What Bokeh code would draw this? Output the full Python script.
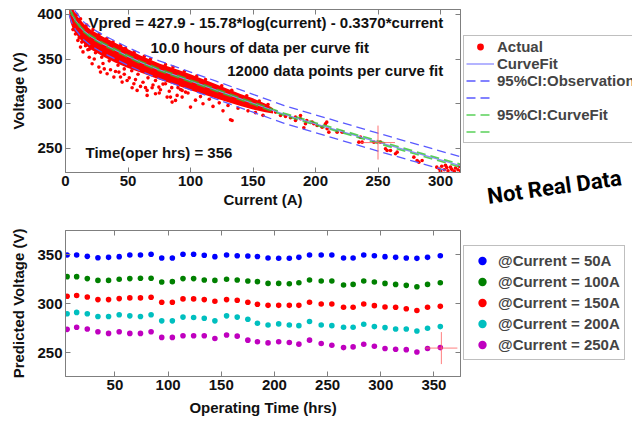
from bokeh.plotting import figure
from bokeh.models import Range1d, LinearAxis, Legend, LegendItem, Label, FixedTicker
from bokeh.layouts import column, row
from bokeh.embed import file_html
from bokeh.resources import INLINE

FONT = "Liberation Sans"

# ---------------- top panel data (Current A vs Voltage V) ----------------
curve_i = [3, 4, 5, 6, 7, 8, 10, 12, 15, 20, 25, 30, 40, 50, 60, 75, 90, 100, 120, 150, 175, 200, 250, 300, 320]
curve_v = [409, 405, 401, 398, 395.5, 393, 389.5, 385.5, 381, 375.5, 371, 367, 360, 353, 346.5, 338, 330.5, 325.5, 315.5, 300.5, 288, 277.5, 257, 237, 229]
obs_hi = [419, 415, 411, 408, 405.5, 403, 399.5, 395.5, 391, 385.5, 381, 377, 370, 363, 356.5, 348, 340.5, 335.5, 325.5, 310.5, 298, 287.5, 267, 247, 239]
obs_lo = [399, 395, 391, 388, 385.5, 383, 379.5, 375.5, 371, 365.5, 361, 357, 350, 343, 336.5, 328, 320.5, 315.5, 305.5, 290.5, 278, 267.5, 247, 227, 219]
cf_hi = [410.2, 406.2, 402.2, 399.2, 396.7, 394.2, 390.7, 386.7, 382.2, 376.7, 372.2, 368.2, 361.2, 354.2, 347.7, 339.2, 331.7, 326.7, 316.7, 301.7, 289.3, 278.8, 258.4, 238.5, 230.7]
cf_lo = [407.8, 403.8, 399.8, 396.8, 394.3, 391.8, 388.3, 384.3, 379.8, 374.3, 369.8, 365.8, 358.8, 351.8, 345.3, 336.8, 329.3, 324.3, 314.3, 299.3, 286.7, 276.2, 255.6, 235.5, 227.3]

band_i = [3, 4, 6, 8, 10, 15, 20, 30, 40, 50, 60, 75, 90, 100, 120, 140, 150, 160, 166]
band_hi = [412, 411, 406, 401, 397, 389, 383, 375, 368, 361, 354, 345, 338, 333, 322, 311, 306, 300, 295]
band_lo = [398, 391, 383, 379, 375, 367, 361, 353, 346, 340, 335, 327, 320, 315, 306, 297.5, 293.5, 290.5, 289]

edge_hi_i = [5, 9, 12, 17, 22, 27, 33, 38, 44, 48, 55, 63, 68, 80, 86, 95, 105, 112, 125, 133, 145, 155, 162]
edge_hi_v = [404, 400, 395, 388, 383, 378, 373, 369, 365, 362, 358, 353, 350, 344, 341, 336, 331, 327, 320, 315, 309, 303, 299]
edge_lo_i = [6, 8, 11, 13, 16, 19, 24, 29, 35, 42, 47, 53, 58, 66, 72, 78, 85, 92, 98, 108, 115, 123, 130, 138, 146, 152, 158]
edge_lo_v = [383, 378, 374, 369, 365, 361, 357, 352, 348, 343, 339, 337, 333, 329, 326, 322, 318, 316, 312, 308, 305, 301, 298, 295, 292, 290, 287]
out_i = [9.9, 12, 17.9, 21.3, 26.7, 28, 33.3, 38.7, 42.7, 45.3, 49.3, 53.3, 54.7, 57.3, 60, 65.3, 65.3, 69.3, 72, 74.7, 76,
         80, 81.3, 84, 85.3, 88, 89.3, 93.3, 93.3, 96, 100, 132, 133.3, 14, 19, 23, 30, 31, 36, 40, 44, 47, 51, 56, 62,
         64, 70, 75, 83, 90, 104, 110, 118, 126]
out_v = [370.9, 363.4, 360.5, 344.8, 341, 335.4, 333.6, 329.8, 335.4, 324.2, 326, 317.9, 322.4, 314.9, 319.4, 309.3, 314.9,
         317.9, 311.2, 318.6, 315.7, 322.4, 307.4, 307.4, 301.8, 303.7, 309.3, 307.4, 314.9, 313, 296.2, 282, 281.3, 358,
         352, 350, 345, 339, 338, 336, 330, 333, 329, 327, 324, 318, 321, 312, 314, 318, 304, 300, 297, 292]
tail_i = [164, 168, 172, 176, 180, 184, 184, 188, 188, 190.7, 192, 193, 197.3, 198.6, 201.3, 205.3, 208, 209.3, 209,
          210.7, 217.3, 221.3, 234.7, 236, 237.3, 246.7, 252, 256, 257.3, 260, 264, 265.3, 278.7, 281.3, 282.7, 285.3,
          297, 299, 301, 303, 305, 306, 308, 309, 311, 312, 314, 315, 316, 300, 304]
tail_v = [292.5, 290.6, 286.9, 285.8, 284.3, 281.3, 285, 283.2, 286.9, 273.1, 277.6, 281.3, 279.4, 277.6, 275.7, 273.8,
          277.6, 272, 279.4, 268.2, 268.2, 268.2, 257, 262.6, 257, 257, 257, 249.6, 247.7, 247.7, 244, 245.8, 240.2,
          236.5, 234.6, 236.5, 229, 227, 230, 226, 228.5, 225, 229, 226.5, 224.5, 228, 226, 230, 225, 224.5, 231]

cross_top_i = [250]
cross_top_v = [256.5]

x_ticks_top = [0, 50, 100, 150, 200, 250, 300]
y_ticks_top = [250, 300, 350, 400]

# ---------------- bottom panel data (Operating time vs predicted V) ----------------
hours = [5, 14, 24, 34, 44, 54, 64, 74, 84, 94, 104, 114, 124, 134, 144, 155, 165, 175, 184, 194, 204, 214, 223, 233,
         244, 254, 265, 274, 284, 294, 304, 314, 324, 334, 344, 356]
v50 = [350, 350, 348.6, 347.2, 347.6, 348.3, 350, 350, 350.7, 346.9, 346.9, 350.7, 350.7, 349.7, 348.3, 350, 349.3, 349,
       348.5, 346.9, 346.6, 346.6, 347.6, 350, 350, 350, 346.9, 346.9, 350, 349.3, 348.3, 347.6, 346.9, 346.6, 347.6, 349.3]
v100 = [327.9, 327.9, 325.9, 324.1, 324.1, 325.2, 325.9, 326.2, 326.2, 322.4, 322.8, 325.9, 325.9, 324.5, 324.1, 325.2,
        324.5, 323.4, 322.8, 321, 321, 320.7, 321.7, 324.5, 323.4, 323.4, 319.3, 320, 323.4, 322.4, 321, 320, 319, 317.6,
        320, 321.7]
v150 = [307.9, 308.6, 307.2, 304.5, 304.5, 305.5, 306.2, 306.2, 306.9, 301.7, 301.7, 305.2, 305.2, 304.5, 302.8, 304.5,
        303.8, 301.7, 299.7, 298.6, 298.6, 298.6, 298.6, 301.7, 300, 300, 296.6, 296.6, 300, 298.3, 296.9, 296.6, 295.2,
        293.4, 296.6, 297.6]
v200 = [290, 291.4, 290, 287.2, 287.2, 289, 287.9, 287.2, 289, 282.8, 282.8, 286.6, 286.2, 285.5, 282.8, 287.9, 286.6,
        284.5, 280.3, 278.6, 279.7, 278.6, 277.9, 282.1, 278.6, 277.9, 276.2, 276.2, 279.3, 276.9, 275.9, 274.5, 274.5,
        272.4, 275.2, 276.9]
v250 = [274.1, 276.2, 274.5, 271.7, 270, 271.7, 270, 270, 271.7, 265.9, 265.9, 267.6, 267.6, 267.6, 264.8, 268.3, 267.2,
        263.1, 261.4, 260.3, 261.4, 260.7, 259, 263.1, 259.7, 257.9, 255.5, 256.2, 259, 256.9, 254.5, 253.8, 253.4, 251,
        254.5, 255.5]
series_labels = ["@Current = 50A", "@Current = 100A", "@Current = 150A", "@Current = 200A", "@Current = 250A"]
series_colors = ["#0000ff", "#008000", "#ff0000", "#00bfbf", "#bf00bf"]
cross_bot_t = [357]
cross_bot_v = [255]

x_ticks_bot = [50, 100, 150, 200, 250, 300, 350]
y_ticks_bot = [250, 300, 350]

AX = "#7f7f7f"
RED = "#ff0000"
FIT_C = "#8c8cff"
OBS_C = "#5a5aff"
CF_C = "#2fc42f"
DASH = "9 5"


def style_axis(ax, ticks, show_labels=True, label=None):
    ax.ticker = FixedTicker(ticks=ticks)
    ax.axis_line_color = AX
    ax.major_tick_line_color = AX
    ax.major_tick_in = 5
    ax.major_tick_out = 0
    ax.minor_tick_line_color = None
    ax.major_label_text_font = FONT
    ax.major_label_text_font_style = "bold"
    ax.major_label_text_color = "#111111"
    if show_labels:
        ax.major_label_text_font_size = "15px"
        ax.major_label_standoff = 3
    else:
        ax.major_label_overrides = {t: "" for t in ticks}
        ax.major_label_text_font_size = "0px"
        ax.major_label_standoff = 0
    if label:
        ax.axis_label = label
        ax.axis_label_text_font = FONT
        ax.axis_label_text_font_style = "bold"
        ax.axis_label_text_font_size = "15px"
        ax.axis_label_text_color = "#111111"


def base_fig(w, h, xr, yr, top, bottom):
    p = figure(width=w, height=h, x_range=xr, y_range=yr, output_backend="svg",
               toolbar_location=None, min_border_left=65, min_border_right=3,
               min_border_top=top, min_border_bottom=bottom)
    p.xgrid.visible = False
    p.ygrid.visible = False
    p.outline_line_color = AX
    p.background_fill_color = "white"
    return p


def side_fig(w, h):
    s = figure(width=w, height=h, x_range=Range1d(0, w), y_range=Range1d(0, h), output_backend="svg",
               toolbar_location=None, x_axis_location=None, y_axis_location=None,
               min_border_left=0, min_border_right=0, min_border_top=0, min_border_bottom=0)
    s.xgrid.visible = False
    s.ygrid.visible = False
    s.outline_line_color = None
    return s


def style_legend(leg, row_h, glyph_w, standoff, pad, loc):
    leg.location = loc
    leg.border_line_color = AX
    leg.background_fill_alpha = 1
    leg.label_text_font = FONT
    leg.label_text_font_style = "bold"
    leg.label_text_font_size = "15px"
    leg.label_height = row_h
    leg.glyph_height = row_h
    leg.glyph_width = glyph_w
    leg.label_standoff = standoff
    leg.padding = pad
    leg.spacing = 0
    leg.margin = 0


TOP_H = 216
BOT_H = 205
MAIN_W = 463
SIDE_W = 169

# ---------------- top figure ----------------
p1 = base_fig(MAIN_W, TOP_H, Range1d(0, 316), Range1d(223, 405.5), 9, 44)
style_axis(p1.xaxis[0], x_ticks_top, True, "Current (A)")
p1.xaxis[0].axis_label_standoff = 2
style_axis(p1.yaxis[0], y_ticks_top, True, "Voltage (V)")
p1.yaxis[0].axis_label_standoff = 7
ax_t = LinearAxis()
style_axis(ax_t, x_ticks_top, False)
p1.add_layout(ax_t, "above")
ax_r = LinearAxis()
style_axis(ax_r, y_ticks_top, False)
p1.add_layout(ax_r, "right")

p1.varea(x=band_i, y1=band_lo, y2=band_hi, fill_color=RED)
act_i = edge_hi_i + edge_lo_i + out_i + tail_i
act_v = edge_hi_v + edge_lo_v + out_v + tail_v
p1.scatter(act_i, act_v, size=3.6, marker="circle", fill_color=RED, line_color=None)
p1.line(curve_i, curve_v, line_color=FIT_C, line_width=1.3)
p1.line(curve_i, obs_lo, line_color=OBS_C, line_width=1.3, line_dash=DASH)
p1.line(curve_i, obs_hi, line_color=OBS_C, line_width=1.3, line_dash=DASH)
p1.line(curve_i, cf_lo, line_color=CF_C, line_width=1.6, line_dash=DASH, line_alpha=0.8)
p1.line(curve_i, cf_hi, line_color=CF_C, line_width=1.6, line_dash=DASH, line_dash_offset=7, line_alpha=0.8)
p1.scatter(cross_top_i, cross_top_v, marker="cross", size=34, line_color="#ff5050", line_width=1, line_alpha=0.8)

for txt, xx, yy in [("Vpred = 427.9 - 15.78*log(current) - 0.3370*current", 18.4, 390.5),
                    ("10.0 hours of data per curve fit", 68.0, 363.2),
                    ("12000 data points per curve fit", 129.4, 337.1),
                    ("Time(oper hrs) = 356", 16.0, 244.9)]:
    p1.add_layout(Label(x=xx, y=yy, text=txt, text_font=FONT, text_font_style="bold",
                        text_font_size="15px", text_color="#111111", text_baseline="alphabetic"))

# right column, top: legend (proxies reuse the data, which lies outside this panel's view)
s1 = side_fig(SIDE_W, 150)
k_act = s1.scatter(act_i, act_v, size=3.6, marker="circle", fill_color=RED, line_color=None)
k_fit = s1.line(curve_i, curve_v, line_color=FIT_C, line_width=1.3)
k_obs1 = s1.line(curve_i, obs_lo, line_color=OBS_C, line_width=1.3, line_dash=DASH)
k_obs2 = s1.line(curve_i, obs_hi, line_color=OBS_C, line_width=1.3, line_dash=DASH)
k_cf1 = s1.line(curve_i, cf_lo, line_color=CF_C, line_width=1.5, line_dash=DASH, line_alpha=0.8)
k_cf2 = s1.line(curve_i, cf_hi, line_color=CF_C, line_width=1.5, line_dash=DASH, line_alpha=0.8)
leg1 = Legend(items=[
    LegendItem(label="Actual", renderers=[k_act]),
    LegendItem(label="CurveFit", renderers=[k_fit]),
    LegendItem(label="95%CI:Observation", renderers=[k_obs1]),
    LegendItem(label=" ", renderers=[k_obs2]),
    LegendItem(label="95%CI:CurveFit", renderers=[k_cf1]),
    LegendItem(label=" ", renderers=[k_cf2]),
])
style_legend(leg1, 17, 28, 3, 2, (0, 7))
s1.add_layout(leg1)

# right column, middle: stamp
s_mid = side_fig(SIDE_W, 66)
s_mid.add_layout(Label(x=24, y=20, text="Not Real Data", angle=0.14,
                       text_font="Roboto", text_font_style="bold", text_font_size="22px",
                       text_color="#000000", text_baseline="alphabetic"))

# ---------------- bottom figure ----------------
p2 = base_fig(MAIN_W, BOT_H, Range1d(3.5, 375), Range1d(226, 375), 14, 45)
style_axis(p2.xaxis[0], x_ticks_bot, True, "Operating Time (hrs)")
p2.xaxis[0].axis_label_standoff = 6
style_axis(p2.yaxis[0], y_ticks_bot, True, "Predicted Voltage (V)")
p2.yaxis[0].axis_label_standoff = 7
ax_t2 = LinearAxis()
style_axis(ax_t2, x_ticks_bot, False)
p2.add_layout(ax_t2, "above")
ax_r2 = LinearAxis()
style_axis(ax_r2, y_ticks_bot, False)
p2.add_layout(ax_r2, "right")

s2 = side_fig(SIDE_W, BOT_H)
items2 = []
for vals, lab, col in zip([v50, v100, v150, v200, v250], series_labels, series_colors):
    p2.scatter(hours, vals, size=5.6, marker="circle", fill_color=col, line_color=None)
    k = s2.scatter(hours, vals, size=5.6, marker="circle", fill_color=col, line_color=None)
    items2.append(LegendItem(label=lab, renderers=[k]))
p2.scatter(cross_bot_t, cross_bot_v, marker="cross", size=32, line_color="#ff6060", line_width=1, line_alpha=0.8)

leg2 = Legend(items=items2)
style_legend(leg2, 21, 28, 2, 4, (0, 61))
s2.add_layout(leg2)

layout = row(column(p1, p2, spacing=0), column(s1, s_mid, s2, spacing=0), spacing=0)
open("out.html", "w").write(file_html(layout, INLINE))
